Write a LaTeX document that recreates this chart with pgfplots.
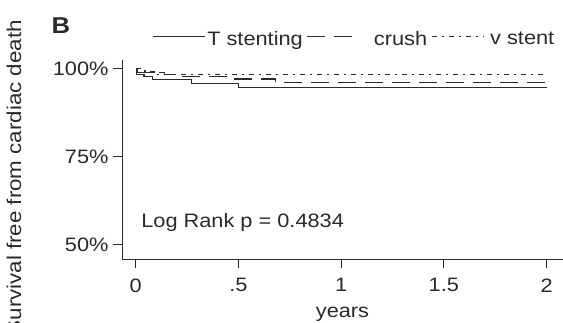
\documentclass[border=0pt]{standalone}
\usepackage{fontspec}
\setmainfont[FakeStretch=1.12]{Liberation Sans}
\usepackage{pgfplots}
\pgfplotsset{compat=1.18}

\definecolor{ink}{HTML}{2A2A2A}
\newcommand{\lblfont}{\fontsize{19.5}{19.5}\selectfont}

\begin{document}
\begin{tikzpicture}
\clip (0bp,0bp) rectangle (563bp,323bp);
\path[use as bounding box] (0bp,0bp) rectangle (563bp,323bp);

% panel letter and y label (clipped at the left edge)
\node[font=\fontsize{23}{23}\selectfont\bfseries, text=ink] at (61bp,297bp) {B};
\node[rotate=90, anchor=east, inner sep=0pt, font=\fontsize{20}{20}\selectfont, text=ink]
  at (14bp,303bp) {Survival free from cardiac death};

\begin{axis}[
  at={(122bp,64bp)}, anchor=south west,
  scale only axis, width=441bp, height=199bp,
  xmin=-0.067, xmax=2.08,
  ymin=46, ymax=102.5,
  axis x line*=bottom, axis y line*=left,
  axis line style={ink, line width=0.9bp},
  tick align=outside,
  major tick length=9bp,
  tick style={ink, line width=0.9bp},
  xtick={0,0.5,1,1.5,2},
  xticklabels={0,.5,1,1.5,2},
  ytick={50,75,100},
  yticklabels={50\%,75\%,100\%},
  /pgf/number format/assume math mode=true,
  ticklabel style={font=\lblfont, text=ink},
  xticklabel style={yshift=-7bp},
  yticklabel style={xshift=-1bp},
  xlabel={years},
  xlabel style={font=\lblfont, text=ink, yshift=-8bp},
  clip=false,
  legend style={at={(rel axis cs:0.068,1.105)}, anchor=west, draw=none, fill=none,
    font=\lblfont, text=ink, inner sep=0pt,
    /tikz/every odd column/.append style={column sep=0pt},
    /tikz/every even column/.append style={column sep=2bp}},
  legend columns=-1,
  legend image code/.code={\draw[#1] (0bp,3bp) -- (52bp,3bp);},
]

% T stenting
\addplot[const plot, ink, line width=1.1bp] coordinates {
  (0,100) (0.005,98.3) (0.04,97.7) (0.08,96.9) (0.27,95.8) (0.5,94.6) (2,94.6)};
\addlegendentry{T stenting}

% crush
\addplot[const plot, ink, line width=1.1bp, dash pattern=on 18bp off 9bp] coordinates {
  (0,100) (0.01,98.9) (0.14,98.3) (0.2,97.8) (0.48,97.1) (0.68,96.1) (2,96.1)};
\addlegendentry{\hspace{12bp}crush}

% V stenting
\addplot[const plot, ink, line width=1.1bp, dash pattern=on 5bp off 5bp on 2bp off 5bp] coordinates {
  (0,100) (0.045,99.1) (0.1,98.5) (2,98.5)};
\addlegendentry{\hspace{4bp}v stent}

\node[anchor=west, font=\lblfont, text=ink] at (axis cs:0.01,56.5) {Log Rank p = 0.4834};
\end{axis}
\end{tikzpicture}
\end{document}
